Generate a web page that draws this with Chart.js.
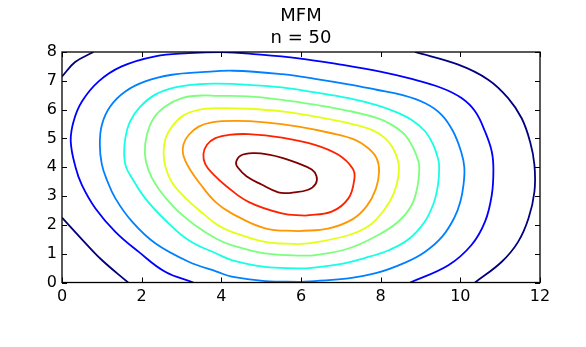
<!DOCTYPE html>
<html>
<head>
<meta charset="utf-8">
<script src="https://cdn.jsdelivr.net/npm/chart.js@4.4.0/dist/chart.umd.min.js"></script>
<style>
html, body { margin: 0; padding: 0; background: #fff; }
</style>
</head>
<body>
<canvas id="contourChart" width="586" height="347"></canvas>
<script>
// tick labels
const xTicks = [0, 2, 4, 6, 8, 10, 12];
const yTicks = [0, 1, 2, 3, 4, 5, 6, 7, 8];

// contour paths, outermost level first
const navyCornerX = [0, 0.33, 0.79];
const navyCornerY = [7.15, 7.65, 8.0];
const navyLowX = [0, 0.50, 1.00, 1.66];
const navyLowY = [2.25, 1.50, 0.78, 0];
const navyRightX = [8.86, 9.95, 10.70, 11.20, 11.54, 11.75, 11.86, 11.86, 11.71, 11.45, 11.04, 10.37];
const navyRightY = [8.0, 7.56, 7.04, 6.40, 5.70, 4.89, 4.08, 3.15, 2.22, 1.41, 0.72, 0];

const blueX = [3.30, 2.59, 1.92, 1.34, 0.84, 0.50, 0.34, 0.22, 0.29, 0.50, 0.92, 1.50, 2.34, 3.18, 4.0, 4.9, 5.94, 7.0, 7.99, 8.70, 9.53, 10.03, 10.37, 10.62, 10.79, 10.83, 10.79, 10.62, 10.28, 9.70, 8.74];
const blueY = [0, 0.37, 1.07, 1.76, 2.57, 3.38, 4.0, 4.89, 5.59, 6.28, 6.98, 7.50, 7.85, 7.96, 8.0, 7.92, 7.78, 7.56, 7.32, 7.09, 6.75, 6.40, 5.94, 5.24, 4.54, 3.91, 3.04, 2.11, 1.30, 0.60, 0];

const azureX = [5.94, 5.10, 4.26, 3.90, 3.18, 2.34, 1.76, 1.34, 1.13, 1.00, 0.95, 1.00, 1.21, 1.59, 2.09, 2.76, 3.51, 4.30, 5.52, 6.35, 7.19, 7.90, 8.53, 9.12, 9.53, 9.82, 10.02, 10.10, 10.08, 10.00, 9.85, 9.55, 9.10, 8.60, 7.90, 7.19, 6.35, 5.94];
const azureY = [0.02, 0.05, 0.20, 0.37, 0.72, 1.36, 2.11, 2.92, 3.55, 4.10, 4.78, 5.47, 6.11, 6.63, 6.98, 7.21, 7.30, 7.35, 7.23, 7.07, 6.88, 6.69, 6.51, 6.22, 5.82, 5.24, 4.54, 4.00, 3.40, 2.80, 2.25, 1.60, 1.05, 0.68, 0.33, 0.14, 0.05, 0.02];

const cyanX = [5.94, 5.10, 4.26, 3.90, 3.18, 2.59, 2.09, 1.76, 1.61, 1.56, 1.59, 1.71, 1.97, 2.34, 2.84, 3.43, 3.90, 4.68, 5.52, 6.35, 7.19, 7.90, 8.36, 8.78, 9.12, 9.32, 9.44, 9.47, 9.44, 9.33, 9.10, 8.70, 8.20, 7.60, 6.90, 6.20, 5.94];
const cyanY = [0.49, 0.54, 0.78, 0.99, 1.47, 2.17, 2.92, 3.62, 4.00, 4.43, 5.01, 5.59, 6.11, 6.52, 6.77, 6.88, 6.90, 6.86, 6.77, 6.60, 6.40, 6.16, 5.93, 5.64, 5.24, 4.78, 4.30, 4.00, 3.40, 2.75, 2.10, 1.50, 1.12, 0.85, 0.62, 0.50, 0.49];

const greenX = [5.94, 5.10, 4.26, 3.90, 3.34, 2.84, 2.40, 2.17, 2.08, 2.13, 2.30, 2.59, 3.01, 3.51, 3.90, 4.68, 5.52, 6.35, 7.19, 7.90, 8.28, 8.61, 8.82, 8.95, 8.97, 8.93, 8.78, 8.44, 7.90, 7.19, 6.35, 5.94];
const greenY = [0.93, 1.01, 1.30, 1.50, 1.99, 2.57, 3.30, 3.90, 4.50, 5.12, 5.70, 6.11, 6.40, 6.49, 6.48, 6.46, 6.34, 6.17, 5.96, 5.71, 5.47, 5.12, 4.66, 4.20, 3.95, 3.38, 2.69, 2.11, 1.62, 1.18, 0.95, 0.93];

const yellowX = [5.94, 5.10, 4.26, 3.90, 3.45, 3.05, 2.75, 2.60, 2.55, 2.60, 2.76, 3.05, 3.43, 3.90, 4.68, 5.52, 6.35, 7.19, 7.78, 8.11, 8.31, 8.43, 8.46, 8.40, 8.23, 7.90, 7.61, 7.19, 6.35, 5.94];
const yellowY = [1.33, 1.41, 1.76, 2.00, 2.50, 3.00, 3.50, 4.00, 4.50, 5.00, 5.41, 5.80, 5.99, 6.05, 6.03, 5.94, 5.76, 5.53, 5.30, 5.01, 4.66, 4.25, 3.95, 3.38, 2.81, 2.20, 1.88, 1.64, 1.39, 1.33];

const orangeX = [5.94, 5.10, 4.26, 3.85, 3.48, 3.18, 3.04, 3.05, 3.18, 3.43, 3.76, 4.35, 5.10, 5.94, 6.77, 7.36, 7.69, 7.90, 7.96, 7.88, 7.65, 7.30, 6.70, 5.94];
const orangeY = [1.78, 1.88, 2.40, 2.80, 3.40, 4.00, 4.45, 4.80, 5.12, 5.41, 5.56, 5.61, 5.56, 5.41, 5.18, 4.95, 4.66, 4.31, 3.85, 3.25, 2.65, 2.20, 1.88, 1.78];

const redX = [6.10, 5.52, 4.68, 4.12, 3.80, 3.60, 3.55, 3.64, 3.85, 4.18, 4.68, 5.52, 6.35, 6.94, 7.30, 7.34, 7.19, 6.77, 6.10];
const redY = [2.32, 2.40, 2.80, 3.35, 3.75, 4.10, 4.45, 4.78, 5.01, 5.12, 5.15, 5.03, 4.78, 4.43, 3.95, 3.60, 2.92, 2.46, 2.32];

const darkRedX = [5.71, 5.43, 5.01, 4.63, 4.42, 4.37, 4.49, 4.82, 5.19, 5.55, 5.90, 6.27, 6.39, 6.37, 6.18, 5.71];
const darkRedY = [3.10, 3.13, 3.40, 3.69, 3.98, 4.17, 4.41, 4.49, 4.44, 4.32, 4.15, 3.92, 3.69, 3.43, 3.22, 3.10];

const contours = [
    [navyCornerX, navyCornerY, '#000080'],
    [navyLowX, navyLowY, '#000080'],
    [navyRightX, navyRightY, '#000080'],
    [blueX, blueY, '#0000ff'],
    [azureX, azureY, '#0080ff'],
    [cyanX, cyanY, '#15ffe2'],
    [greenX, greenY, '#7cff7c'],
    [yellowX, yellowY, '#e2ff14'],
    [orangeX, orangeY, '#ff9700'],
    [redX, redY, '#ff2200'],
    [darkRedX, darkRedY, '#800000']
];

const datasets = contours.map(function(c) {
    return {
        data: c[0].map(function(v, i) { return {x: v, y: c[1][i]}; }),
        borderColor: c[2],
        borderWidth: 1.8,
        showLine: true,
        pointRadius: 0,
        tension: 0.4,
        fill: false
    };
});

// box round the plot and inward tick marks on all four sides
const frameTicks = {
    id: 'frameTicks',
    afterDatasetsDraw(chart) {
        const ctx = chart.ctx;
        const a = chart.chartArea;
        const x = chart.scales.x, y = chart.scales.y;
        ctx.save();
        ctx.strokeStyle = '#000';
        ctx.lineWidth = 1;
        ctx.beginPath();
        xTicks.forEach(function(v) {
            const px = Math.round(x.getPixelForValue(v)) + 0.5;
            ctx.moveTo(px, a.bottom); ctx.lineTo(px, a.bottom - 5);
            ctx.moveTo(px, a.top); ctx.lineTo(px, a.top + 5);
        });
        yTicks.forEach(function(v) {
            const py = Math.round(y.getPixelForValue(v)) + 0.5;
            ctx.moveTo(a.left, py); ctx.lineTo(a.left + 5, py);
            ctx.moveTo(a.right, py); ctx.lineTo(a.right - 5, py);
        });
        ctx.stroke();
        ctx.lineWidth = 1.3;
        ctx.strokeRect(a.left, a.top, a.right - a.left, a.bottom - a.top);
        ctx.restore();
    }
};

const font = "'DejaVu Sans', sans-serif";

new Chart(document.getElementById('contourChart').getContext('2d'), {
    type: 'scatter',
    data: { datasets: datasets },
    options: {
        responsive: false,
        animation: false,
        layout: { padding: { left: 0, right: 46, top: 0, bottom: 0 } },
        scales: {
            x: {
                type: 'linear',
                min: 0,
                max: 12,
                afterBuildTicks: function(scale) { scale.ticks = xTicks.map(function(v) { return {value: v}; }); },
                afterFit: function(scale) { scale.height = 64.5; },
                grid: { display: false, drawTicks: false },
                border: { display: false },
                ticks: { color: '#000', font: { family: font, size: 16 }, padding: 5, maxRotation: 0 }
            },
            y: {
                type: 'linear',
                min: 0,
                max: 8,
                afterBuildTicks: function(scale) { scale.ticks = yTicks.map(function(v) { return {value: v}; }); },
                afterFit: function(scale) { scale.width = 62; },
                grid: { display: false, drawTicks: false },
                border: { display: false },
                ticks: { color: '#000', font: { family: font, size: 16 }, padding: 5 }
            }
        },
        plugins: {
            legend: { display: false },
            tooltip: { enabled: false },
            title: {
                display: true,
                text: ['MFM', 'n = 50'],
                color: '#000',
                fullSize: false,
                font: { family: font, size: 18, weight: 'normal', lineHeight: 1.25 },
                padding: { top: 5, bottom: 2 }
            }
        }
    },
    plugins: [frameTicks]
});
</script>
</body>
</html>
